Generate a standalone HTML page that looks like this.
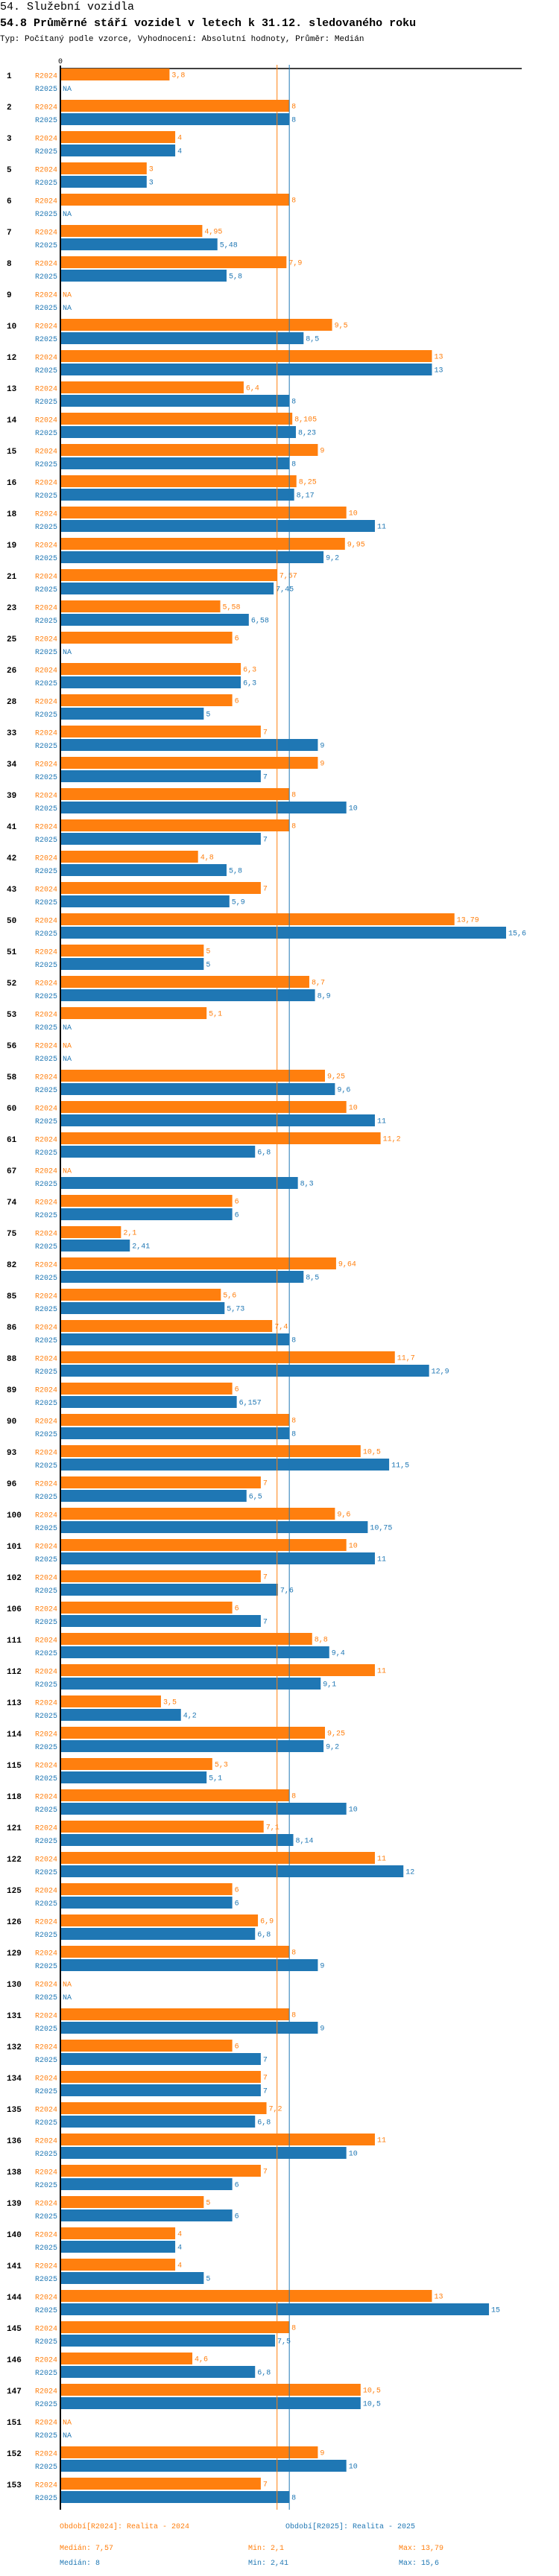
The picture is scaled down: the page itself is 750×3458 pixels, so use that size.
<!DOCTYPE html>
<html><head><meta charset="utf-8">
<style>
html,body{margin:0;padding:0;background:#fff;width:750px;height:3458px;overflow:hidden}
svg{display:block}
text{font-family:"Liberation Mono",monospace}
</style></head>
<body>
<svg id="chart" width="750" height="3458">
<text x="0" y="13" font-size="15" fill="#000">54. Služební vozidla</text>
<text x="0" y="35" font-size="15" font-weight="bold" fill="#000">54.8 Průměrné stáří vozidel v letech k 31.12. sledovaného roku</text>
<text x="0" y="55" font-size="11" fill="#000">Typ: Počítaný podle vzorce, Vyhodnocení: Absolutní hodnoty, Průměr: Medián</text>
<text x="78" y="85" font-size="10" fill="#000">0</text>
<line x1="80" y1="92" x2="700" y2="92" stroke="#000" stroke-width="1.5"/>
<g id="bars"></g>
<line x1="81" y1="88" x2="81" y2="3369" stroke="#000" stroke-width="2"/>
<text x="80" y="3394" font-size="10" fill="#ff7f0e">Období[R2024]: Realita - 2024</text>
<text x="383" y="3394" font-size="10" fill="#1f77b4">Období[R2025]: Realita - 2025</text>
<text x="80" y="3423" font-size="10" fill="#ff7f0e">Medián: 7,57</text>
<text x="333" y="3423" font-size="10" fill="#ff7f0e">Min: 2,1</text>
<text x="535" y="3423" font-size="10" fill="#ff7f0e">Max: 13,79</text>
<text x="80" y="3443" font-size="10" fill="#1f77b4">Medián: 8</text>
<text x="333" y="3443" font-size="10" fill="#1f77b4">Min: 2,41</text>
<text x="535" y="3443" font-size="10" fill="#1f77b4">Max: 15,6</text>
</svg>
<script>
const categories = ["1","2","3","5","6","7","8","9","10","12","13","14","15","16","18","19","21","23","25","26","28","33","34","39","41","42","43","50","51","52","53","56","58","60","61","67","74","75","82","85","86","88","89","90","93","96","100","101","102","106","111","112","113","114","115","118","121","122","125","126","129","130","131","132","134","135","136","138","139","140","141","144","145","146","147","151","152","153"];
const r2024 = [3.8,8,4,3,8,4.95,7.9,null,9.5,13,6.4,8.105,9,8.25,10,9.95,7.57,5.58,6,6.3,6,7,9,8,8,4.8,7,13.79,5,8.7,5.1,null,9.25,10,11.2,null,6,2.1,9.64,5.6,7.4,11.7,6,8,10.5,7,9.6,10,7,6,8.8,11,3.5,9.25,5.3,8,7.1,11,6,6.9,8,null,8,6,7,7.2,11,7,5,4,4,13,8,4.6,10.5,null,9,7];
const r2025 = [null,8,4,3,null,5.48,5.8,null,8.5,13,8,8.23,8,8.17,11,9.2,7.45,6.58,null,6.3,5,9,7,10,7,5.8,5.9,15.6,5,8.9,null,null,9.6,11,6.8,8.3,6,2.41,8.5,5.73,8,12.9,6.157,8,11.5,6.5,10.75,11,7.6,7,9.4,9.1,4.2,9.2,5.1,10,8.14,12,6,6.8,9,null,9,7,7,6.8,10,6,6,4,5,15,7.5,6.8,10.5,null,10,8];
const seriesNames = ["R2024","R2025"];
const medians = [7.57, 8];

const X0 = 82, SCALE = 38.27, Y0 = 101, STEP = 42;
const COLORS = ["#ff7f0e","#1f77b4"];
const xScale = v => X0 + v * SCALE;
const yScale = i => Y0 + i * STEP;
const NS = "http://www.w3.org/2000/svg";
const g = document.getElementById("bars");
const fmt = v => String(v).replace(".", ",");
function mk(tag, attrs, txt){
  const e = document.createElementNS(NS, tag);
  for (const k in attrs) e.setAttribute(k, attrs[k]);
  if (txt !== undefined) e.textContent = txt;
  g.appendChild(e);
  return e;
}
const series = [r2024, r2025];
categories.forEach((cat, i) => {
  const gy = yScale(i);
  const lab = mk("text", {x: 9, y: gy + 4, "font-size": 11, "font-weight": "bold", fill: "#000"}, cat);
  
  
  series.forEach((arr, s) => {
    const cy = gy + s * 17.5;
    const sl = mk("text", {x: 77, y: cy + 3.5, "font-size": 10, fill: COLORS[s], "text-anchor": "end"}, seriesNames[s]);
    
    
    const v = arr[i];
    if (v === null) {
      const na = mk("text", {x: 84, y: cy + 3.5, "font-size": 10, fill: COLORS[s]}, "NA");
      
      
      return;
    }
    const top = s === 0 ? gy - 9 : gy + 9;
    const r = mk("rect", {x: X0, y: top, width: xScale(v) - X0, height: 16, fill: COLORS[s]});
    
    
    const vl = mk("text", {x: xScale(v) + 3, y: top + 11.5, "font-size": 10, fill: COLORS[s]}, fmt(v));
    
    
  });
});
medians.forEach((m, s) => {
  const l = mk("line", {x1: xScale(m), x2: xScale(m), y1: 87, y2: 3369, stroke: COLORS[s], "stroke-width": 1});
  
  
});
</script>
</body></html>
